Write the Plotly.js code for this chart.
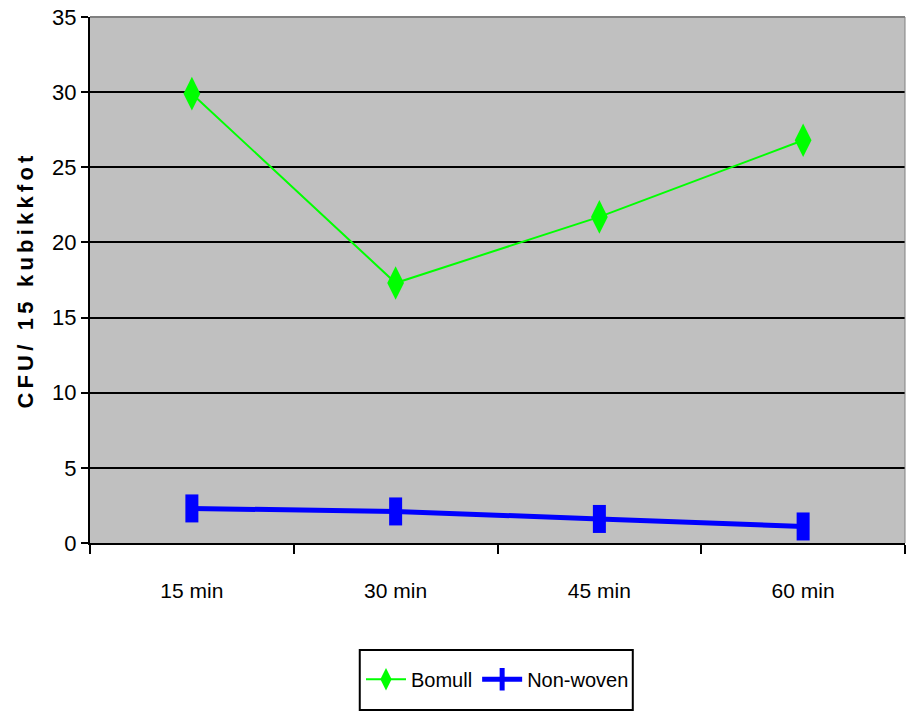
<!DOCTYPE html>
<html>
<head>
<meta charset="utf-8">
<script src="https://cdn.plot.ly/plotly-3.0.1.min.js"></script>
<style>
html,body{margin:0;padding:0;background:#fff;}
#chart{width:908px;height:714px;}
#chart .g-ytitle text{letter-spacing:4.2px;}
</style>
</head>
<body>
<div id="chart"></div>
<script>
const categories = ["15 min", "30 min", "45 min", "60 min"];
const bomull = [29.9, 17.3, 21.7, 26.8];
const nonWoven = [2.3, 2.1, 1.6, 1.1];
const yTicks = [0, 5, 10, 15, 20, 25, 30, 35];

const narrow = "Liberation Sans Narrow, Arial Narrow, Liberation Sans, Arial, sans-serif";

const traces = [
  {
    x: categories, y: bomull, name: "Bomull", type: "scatter", mode: "lines+markers",
    line: {color: "#00FF00", width: 2},
    marker: {symbol: "diamond-tall", size: 24, color: "#00FF00"}
  },
  {
    x: categories, y: nonWoven, name: "Non-woven", type: "scatter", mode: "lines+markers",
    line: {color: "#0000FF", width: 5},
    marker: {symbol: "line-ns", size: 20, line: {color: "#0000FF", width: 13}, color: "#0000FF"}
  }
];

const layout = {
  width: 908, height: 714,
  margin: {l: 90, r: 3, t: 17, b: 171},
  paper_bgcolor: "#ffffff",
  plot_bgcolor: "#C0C0C0",
  showlegend: true,
  legend: {
    orientation: "h", x: 0.5, xanchor: "center", y: -0.222, yanchor: "top",
    borderwidth: 0, bgcolor: "rgba(0,0,0,0)",
    font: {family: narrow, size: 20, color: "#000"}, itemwidth: 40, tracegroupgap: 0
  },
  xaxis: {
    type: "category", tickson: "boundaries", ticks: "outside", ticklen: 9, tickwidth: 1.5, tickcolor: "#000",
    showline: true, linecolor: "#000", linewidth: 2, showgrid: false,
    tickfont: {family: narrow, size: 21, color: "#000"}, ticklabelstandoff: 28,
    range: [-0.5, 3.5], mirror: false
  },
  yaxis: {
    range: [0, 35], tickvals: yTicks, ticks: "outside", ticklen: 7, tickwidth: 1.5, tickcolor: "#000",
    showline: true, linecolor: "#000", linewidth: 2,
    showgrid: true, gridcolor: "#000", gridwidth: 2, zeroline: false,
    tickfont: {family: narrow, size: 22, color: "#000"},
    title: {text: "CFU/ 15 kubikkfot", font: {family: "Liberation Sans, Arial, sans-serif", size: 22, color: "#000", weight: "bold"}, standoff: 12}
  },
  shapes: [
    {type: "line", xref: "paper", yref: "paper", x0: 0, x1: 1, y0: 1, y1: 1, line: {color: "#808080", width: 2}},
    {type: "line", xref: "paper", yref: "paper", x0: 1, x1: 1, y0: 0, y1: 1, line: {color: "#808080", width: 1}},
    {type: "rect", xref: "paper", yref: "paper", x0: 0.331, x1: 0.666, y0: -0.2034, y1: -0.3175, line: {color: "#000", width: 2}, fillcolor: "rgba(0,0,0,0)"}
  ]
};

Plotly.newPlot("chart", traces, layout, {displayModeBar: false});
</script>
</body>
</html>
